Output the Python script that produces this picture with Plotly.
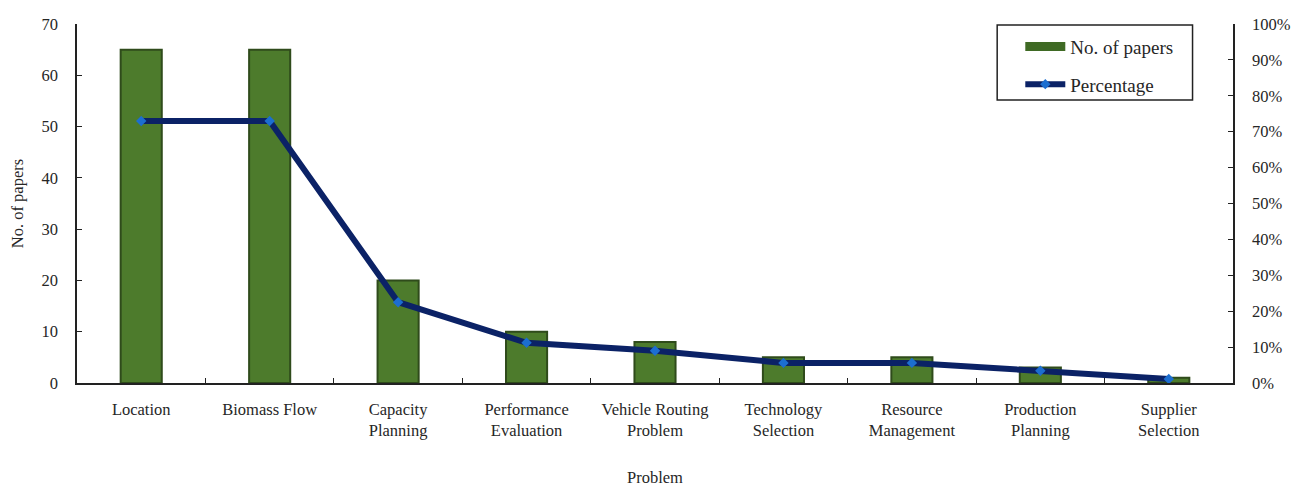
import plotly.graph_objects as go

# Problem categories and counts
categories = [
    "Location", "Biomass Flow", "Capacity<br>Planning", "Performance<br>Evaluation",
    "Vehicle Routing<br>Problem", "Technology<br>Selection", "Resource<br>Management",
    "Production<br>Planning", "Supplier<br>Selection",
]
papers = [65, 65, 20, 10, 8, 5, 5, 3, 1]
percentage = [0.73, 0.73, 0.225, 0.112, 0.09, 0.056, 0.056, 0.034, 0.011]

FONT = "Liberation Serif"
TEXT = "#262626"
FS = 16.5
BAR_GREEN = "#4d7b2c"

fig = go.Figure()

fig.add_trace(go.Bar(
    x=categories, y=papers, name="No. of papers",
    width=0.32,
    marker=dict(color=BAR_GREEN, line=dict(color="#2f4b1b", width=2)),
    yaxis="y", showlegend=False,
))

# Legend entry for the bars, drawn as a wide swatch
fig.add_trace(go.Scatter(
    x=[None], y=[None], name="No. of papers", mode="lines",
    line=dict(color="#3f6a24", width=9),
    legendgroup="bars", yaxis="y",
))

fig.add_trace(go.Scatter(
    x=categories, y=percentage, name="Percentage",
    mode="lines+markers",
    line=dict(color="#0b2266", width=6),
    marker=dict(symbol="diamond", size=8, color="#1c6ed0"),
    legendgroup="pct", yaxis="y2",
))

fig.update_layout(
    width=1297, height=487,
    margin=dict(l=77, r=64, t=24, b=104),
    paper_bgcolor="white", plot_bgcolor="white",
    font=dict(family=FONT, size=FS, color=TEXT),
    bargap=0.68,
    showlegend=True,
    legend=dict(
        x=0.816, y=0.99, xanchor="left", yanchor="top",
        borderwidth=0, bgcolor="rgba(0,0,0,0)",
        font=dict(family=FONT, size=19, color=TEXT),
        tracegroupgap=10, itemwidth=40,
    ),
    # frame around the legend
    shapes=[dict(
        type="rect", xref="paper", yref="paper",
        x0=0.796, x1=0.965, y0=0.788, y1=0.997,
        line=dict(color="#222222", width=1.5), fillcolor="rgba(0,0,0,0)",
        layer="above",
    )],
    xaxis=dict(
        type="category", automargin=False,
        showline=True, linecolor="#222222", linewidth=1.5,
        ticks="inside", tickson="boundaries", ticklen=5, tickcolor="#222222",
        showgrid=False, ticklabelstandoff=10,
        tickfont=dict(family=FONT, size=FS, color=TEXT),
        title=dict(text="Problem", standoff=40, font=dict(family=FONT, size=FS, color=TEXT)),
    ),
    yaxis=dict(
        range=[0, 70], dtick=10, automargin=False,
        showline=True, linecolor="#222222", linewidth=1.5,
        ticks="inside", ticklen=5, tickcolor="#222222",
        showgrid=False, zeroline=False, ticklabelstandoff=14,
        tickfont=dict(family=FONT, size=FS, color=TEXT),
        title=dict(text="No. of papers", standoff=14, font=dict(family=FONT, size=FS, color=TEXT)),
    ),
    yaxis2=dict(
        range=[0, 1], dtick=0.1, tickformat=".0%", automargin=False,
        overlaying="y", side="right",
        showline=True, linecolor="#222222", linewidth=1.5,
        ticks="inside", ticklen=5, tickcolor="#222222",
        showgrid=False, zeroline=False, ticklabelstandoff=14,
        tickfont=dict(family=FONT, size=FS, color=TEXT),
    ),
)

fig.write_html("out.html")
